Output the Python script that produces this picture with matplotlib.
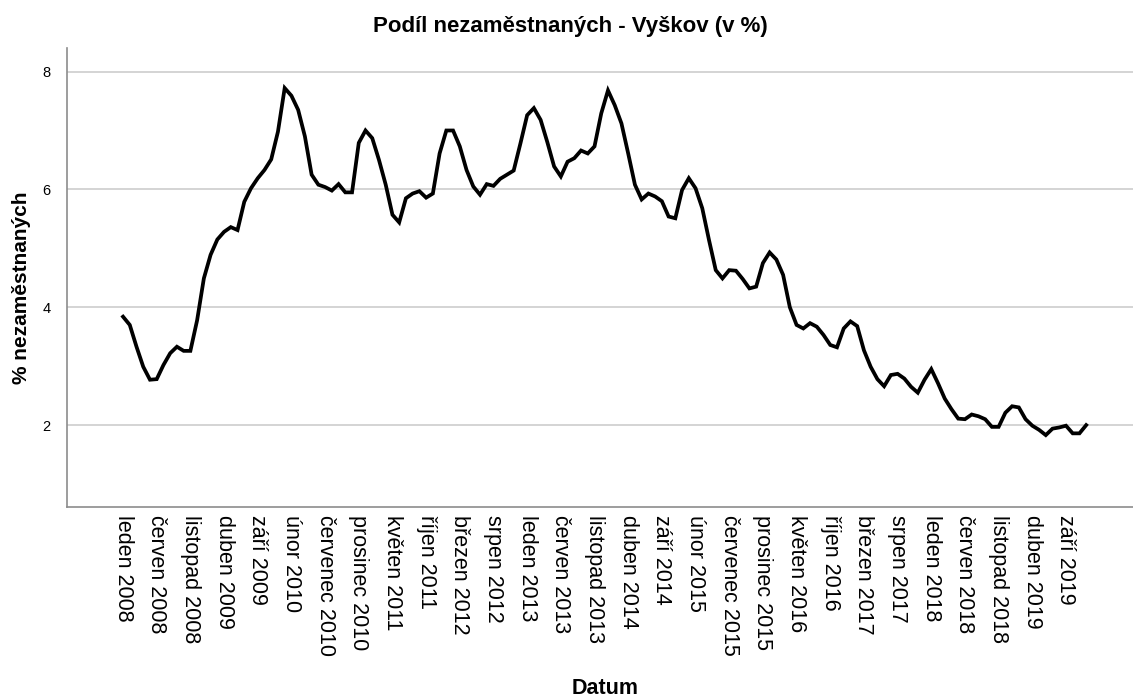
import matplotlib
matplotlib.use("Agg")
import matplotlib.pyplot as plt
import numpy as np

plt.rcParams['font.family'] = ['Liberation Sans', 'DejaVu Sans']

months_cz = ["leden", "únor", "březen", "duben", "květen", "červen",
             "červenec", "srpen", "září", "říjen", "listopad", "prosinec"]
start_year = 2008

values = [
    3.84, 3.70, 3.33, 2.99, 2.77, 2.78, 3.02, 3.22, 3.33, 3.26, 3.26, 3.78,
    4.49, 4.89, 5.15, 5.28, 5.36, 5.31, 5.79, 6.02, 6.19, 6.33, 6.51, 6.98,
    7.72, 7.59, 7.35, 6.90, 6.25, 6.08, 6.04, 5.98, 6.09, 5.95, 5.95, 6.79,
    7.00, 6.87, 6.50, 6.08, 5.57, 5.44, 5.85, 5.93, 5.97, 5.86, 5.93, 6.61,
    7.00, 7.00, 6.73, 6.33, 6.05, 5.91, 6.09, 6.06, 6.18, 6.25, 6.32, 6.78,
    7.26, 7.38, 7.18, 6.80, 6.39, 6.22, 6.47, 6.53, 6.66, 6.61, 6.73, 7.29,
    7.68, 7.43, 7.12, 6.61, 6.08, 5.83, 5.93, 5.88, 5.80, 5.54, 5.51, 5.99,
    6.19, 6.02, 5.68, 5.14, 4.63, 4.49, 4.63, 4.62, 4.48, 4.32, 4.35, 4.75,
    4.93, 4.81, 4.55, 4.00, 3.70, 3.64, 3.73, 3.67, 3.53, 3.36, 3.32, 3.64,
    3.76, 3.68, 3.27, 2.99, 2.78, 2.66, 2.85, 2.87, 2.79, 2.65, 2.55, 2.77,
    2.95, 2.71, 2.45, 2.27, 2.11, 2.10, 2.18, 2.15, 2.10, 1.97, 1.97, 2.21,
    2.32, 2.30, 2.10, 1.99, 1.92, 1.83, 1.94, 1.96, 1.99, 1.86, 1.86, 2.00,
]

dates = [f"{months_cz[i % 12]} {start_year + i // 12}" for i in range(len(values))]
tick_step = 5
y_ticks = [2, 4, 6, 8]

W, H = 1133, 697
fig = plt.figure(figsize=(W / 100, H / 100), dpi=100)
ax = fig.add_axes([67 / W, 1 - 507 / H, (1133 - 67) / W, (507 - 48) / H])

x = np.arange(len(values))
ax.plot(x, values, color='black', linewidth=2.7, solid_joinstyle='miter')

ax.set_xlim(-8.32, 149.95)
ax.set_ylim(0.61, 8.40)

ax.set_yticks(y_ticks)
ax.set_yticklabels([str(t) for t in y_ticks], fontsize=10.5)
ax.set_xticks(x[::tick_step])
ax.set_xticklabels(dates[::tick_step], rotation=-90, fontsize=15.5, va='top', ha='center')
ax.tick_params(axis='both', length=0)
ax.tick_params(axis='x', pad=6)
ax.tick_params(axis='y', pad=12)

ax.grid(axis='y', color='#d4d4d4', linewidth=1.4)
ax.set_axisbelow(True)
for s in ['top', 'right']:
    ax.spines[s].set_visible(False)
for s in ['left', 'bottom']:
    ax.spines[s].set_color('#8c8c8c')
    ax.spines[s].set_linewidth(1.2)

fig.text(570 / W, 1 - 32 / H, "Podíl nezaměstnaných - Vyškov (v %)", fontsize=16,
         fontweight='bold', ha='center', va='baseline')
fig.text(605 / W, 1 - 694 / H, "Datum", fontsize=15.5, fontweight='bold',
         ha='center', va='baseline')
fig.text(22 / W, 1 - 288 / H, "% nezaměstnaných", fontsize=15, fontweight='bold',
         ha='center', va='center', rotation=90)

fig.savefig("out.png", dpi=100)
